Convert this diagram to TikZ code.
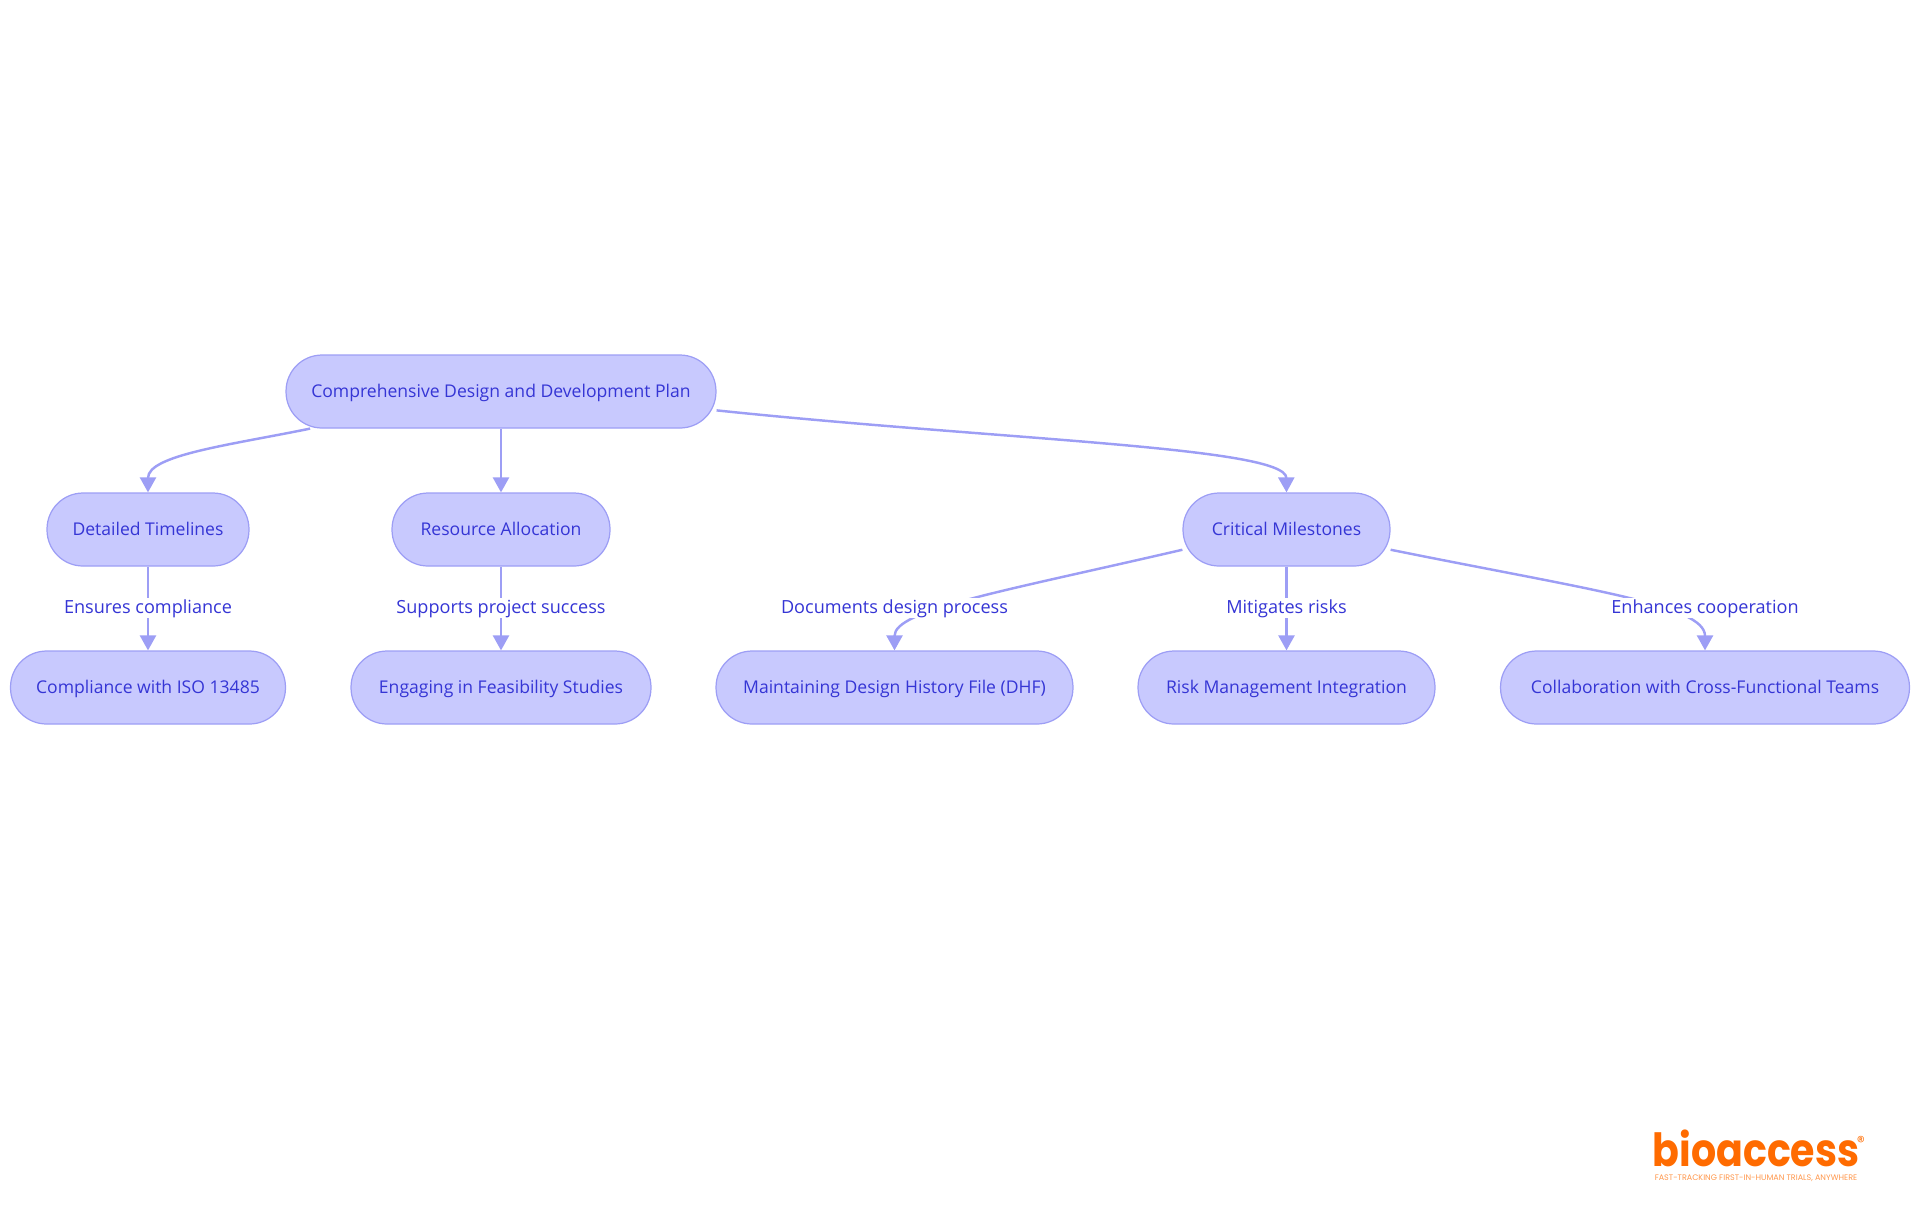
\documentclass[tikz,border=0pt]{standalone}
\usepackage{fontspec}
\setmainfont{Open Sans}
\newfontfamily\logofont{Poppins}
\usetikzlibrary{arrows.meta, positioning}
\definecolor{planfill}{RGB}{200, 201, 254}
\definecolor{planline}{RGB}{157, 158, 245}
\definecolor{plantext}{RGB}{53, 53, 213}
\definecolor{logoorange}{RGB}{255, 107, 0}
\tikzset{
  box/.style={draw=planline, fill=planfill, text=plantext, line width=0.7pt, rounded corners=0.72cm,
    minimum height=1.46cm, inner sep=0pt, text height=0.28cm, text depth=0.06cm, font=\fontsize{10}{13}\selectfont},
  link/.style={draw=planline, line width=1.4pt, -{Triangle[length=0.3cm,width=0.32cm]}},
  tag/.style={fill=white, text=plantext, inner xsep=0pt, inner ysep=0.03cm, text height=0.28cm, text depth=0.06cm, font=\fontsize{10.3}{13}\selectfont}
}
\begin{document}
\begin{tikzpicture}[x=0.02cm,y=-0.02cm]
\useasboundingbox (0,0) rectangle (1920,1215);
% top row
\node[box, minimum width=8.6cm] (plan) at (501,391.5) {Comprehensive Design and Development Plan};
% middle row
\node[box, minimum width=4.04cm] (timelines) at (148,529.5) {Detailed Timelines};
\node[box, minimum width=4.36cm] (resources) at (501,529.5) {Resource Allocation};
\node[box, minimum width=4.14cm] (milestones) at (1286.5,529.5) {Critical Milestones};
% bottom row
\node[box, minimum width=5.5cm] (iso) at (148,687.5) {Compliance with ISO 13485};
\node[box, minimum width=6.0cm] (feasibility) at (501,687.5) {Engaging in Feasibility Studies};
\node[box, minimum width=7.14cm] (dhf) at (894.5,687.5) {Maintaining Design History File (DHF)};
\node[box, minimum width=5.94cm] (risk) at (1286.5,687.5) {Risk Management Integration};
\node[box, minimum width=8.18cm] (teams) at (1705,687.5) {Collaboration with Cross-Functional Teams};
% links
\draw[link] (plan.191.1) .. controls (230,445) and (148,455) .. (timelines.north);
\draw[link] (plan.south) -- (resources.north);
\draw[link] (plan.-5) .. controls (1000,440) and (1286,447) .. (milestones.north);
\draw[link] (timelines.south) -- (iso.north);
\draw[link] (resources.south) -- (feasibility.north);
\draw[link] (milestones.191) .. controls (1000,592) and (894.5,610) .. (dhf.north);
\draw[link] (milestones.south) -- (risk.north);
\draw[link] (milestones.-11) .. controls (1590,590) and (1705,605) .. (teams.north);
% labels on top of links
\node[tag] (compliance) at (148,608) {Ensures compliance};
\node[tag] (success) at (501,608) {Supports project success};
\node[tag] (process) at (894.5,608) {Documents design process};
\node[tag] (mitigates) at (1286.5,608) {Mitigates risks};
\node[tag] (cooperation) at (1705,608) {Enhances cooperation};
% logo
\node[text=logoorange, font=\logofont\bfseries\fontsize{26}{30}\selectfont, inner sep=0pt, xscale=0.865, transform shape] (logo) at (1756,1148) {bioaccess};
\node[text=logoorange, font=\logofont\fontsize{9}{10}\selectfont, inner sep=0pt] (mark) at (1861,1142) {\textregistered};
\node[text=logoorange!70, font=\logofont\fontsize{4.56}{5}\selectfont, inner sep=0pt] (slogan) at (1756,1178) {FAST-TRACKING FIRST-IN-HUMAN TRIALS, ANYWHERE};
\end{tikzpicture}
\end{document}
